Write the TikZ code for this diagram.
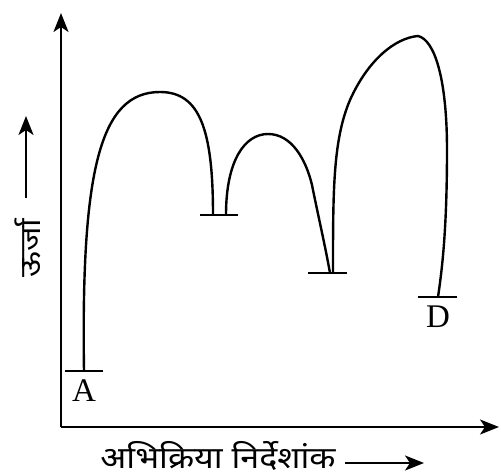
\documentclass[tikz,border=0pt]{standalone}
\usepackage{fontspec}
\usepackage{graphicx}
\setmainfont{Liberation Serif}
\newfontfamily\deva[Script=Devanagari]{Noto Sans}
\usetikzlibrary{arrows.meta}
\tikzset{
  curve/.style={line width=2.4pt, line join=round, line cap=round},
  level/.style={line width=2.2pt},
  axis/.style={line width=2.2pt, -{Stealth[length=19pt,width=15pt,inset=5pt]}},
  lab/.style={font=\fontsize{33}{35}\selectfont, inner sep=0pt},
}
\begin{document}
\begin{tikzpicture}[x=1pt,y=-1pt]
\useasboundingbox (0,0) rectangle (501,476);
% axes
\coordinate (O) at (61,427);
\coordinate (Ytop) at (61,13);
\coordinate (Xend) at (499,427);
\draw[axis] (O) -- (Ytop);
\draw[axis] (O) -- (Xend);
% level lines
\draw[level] (65,371) -- (103,371);
\draw[level] (200,215) -- (238,215);
\draw[level] (308,273) -- (347,273);
\draw[level] (418,297) -- (457,297);
% curves
\draw[curve] (84,371) .. controls (81,170) and (100,92) .. (160,92)
                      .. controls (200,92) and (213,130) .. (213,215);
\draw[curve] (226,215) .. controls (226,160) and (245,134) .. (268,134)
                       .. controls (292,134) and (306,160) .. (312,185)
                       .. controls (318,215) and (325,245) .. (330,273);
\draw[curve] (333,273) .. controls (333,190) and (333,140) .. (350,100)
                       .. controls (368,60) and (395,38) .. (418,36)
                       .. controls (435,40) and (447,80) .. (447,150)
                       .. controls (447,230) and (442,270) .. (438,297);
% labels
\node[lab] (A) at (84,391) {A};
\node[lab] (D) at (438,317) {D};
\node[inner sep=0pt, rotate=90] (Ey) at (28,248) {\resizebox*{59pt}{26pt}{\deva ऊर्जा}};
\coordinate (ya1) at (26,198);
\coordinate (ya2) at (26,116);
\draw[axis] (ya1) -- (ya2);
\node[inner sep=0pt] (Xl) at (218,456) {\resizebox*{235pt}{29pt}{\deva अभिक्रिया निर्देशांक}};
\coordinate (xa1) at (345,463);
\coordinate (xa2) at (424,463);
\draw[axis] (xa1) -- (xa2);
\end{tikzpicture}
\end{document}
